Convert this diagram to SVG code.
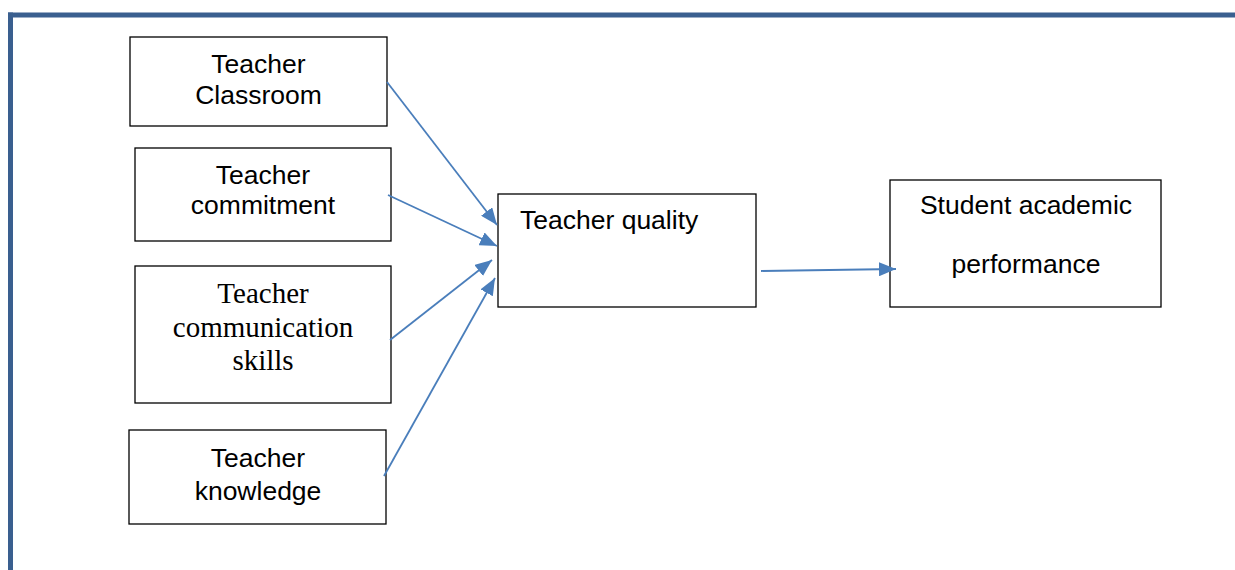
<svg xmlns="http://www.w3.org/2000/svg" width="1235" height="570" viewBox="0 0 1235 570">
  <style>
    .box { fill: #ffffff; stroke: #000000; stroke-width: 1.3; }
    .sans { font-family: "Liberation Sans", Arial, sans-serif; font-size: 26.5px; fill: #000000; }
    .serif { font-family: "Liberation Serif", "Times New Roman", serif; font-size: 29px; fill: #000000; }
    .link { stroke: #4a7ebb; stroke-width: 1.8; fill: none; marker-end: url(#head); }
  </style>
  <defs>
    <marker id="head" viewBox="0 0 10 10" refX="10" refY="5" markerUnits="userSpaceOnUse" markerWidth="17" markerHeight="14" preserveAspectRatio="none" orient="auto">
      <path d="M0,0 L10,5 L0,10 Z" fill="#4a7ebb"/>
    </marker>
  </defs>

  <rect width="1235" height="570" fill="#ffffff"/>

  <!-- page frame -->
  <g id="frame" fill="#3a5f8f">
    <rect x="8" y="12.5" width="1227" height="5"/>
    <rect x="8" y="12.5" width="5" height="557.5"/>
  </g>

  <g id="classroom">
    <rect class="box" x="130" y="37" width="257" height="89"/>
    <text class="sans" text-anchor="middle" x="258.5" y="73">Teacher</text>
    <text class="sans" text-anchor="middle" x="258.5" y="104">Classroom</text>
  </g>

  <g id="commitment">
    <rect class="box" x="135" y="148" width="256" height="93"/>
    <text class="sans" text-anchor="middle" x="263" y="184">Teacher</text>
    <text class="sans" text-anchor="middle" x="263" y="214">commitment</text>
  </g>

  <g id="communication">
    <rect class="box" x="135" y="266" width="256" height="137"/>
    <text class="serif" text-anchor="middle" x="263" y="303">Teacher</text>
    <text class="serif" text-anchor="middle" x="263" y="337">communication</text>
    <text class="serif" text-anchor="middle" x="263" y="370">skills</text>
  </g>

  <g id="knowledge">
    <rect class="box" x="129" y="430" width="257" height="94"/>
    <text class="sans" text-anchor="middle" x="258" y="467">Teacher</text>
    <text class="sans" text-anchor="middle" x="258" y="500">knowledge</text>
  </g>

  <g id="quality">
    <rect class="box" x="498" y="194" width="258" height="113"/>
    <text class="sans" x="520" y="229">Teacher quality</text>
  </g>

  <g id="performance">
    <rect class="box" x="890" y="180" width="271" height="127"/>
    <text class="sans" text-anchor="middle" x="1026" y="214">Student academic</text>
    <text class="sans" text-anchor="middle" x="1026" y="273">performance</text>
  </g>

  <g id="connectors">
    <line class="link" x1="387" y1="82" x2="497" y2="225"/>
    <line class="link" x1="388" y1="195" x2="497" y2="246"/>
    <line class="link" x1="390" y1="340" x2="492" y2="260"/>
    <line class="link" x1="384" y1="476" x2="495" y2="278"/>
    <line class="link" x1="761" y1="271" x2="896" y2="269"/>
  </g>
</svg>
